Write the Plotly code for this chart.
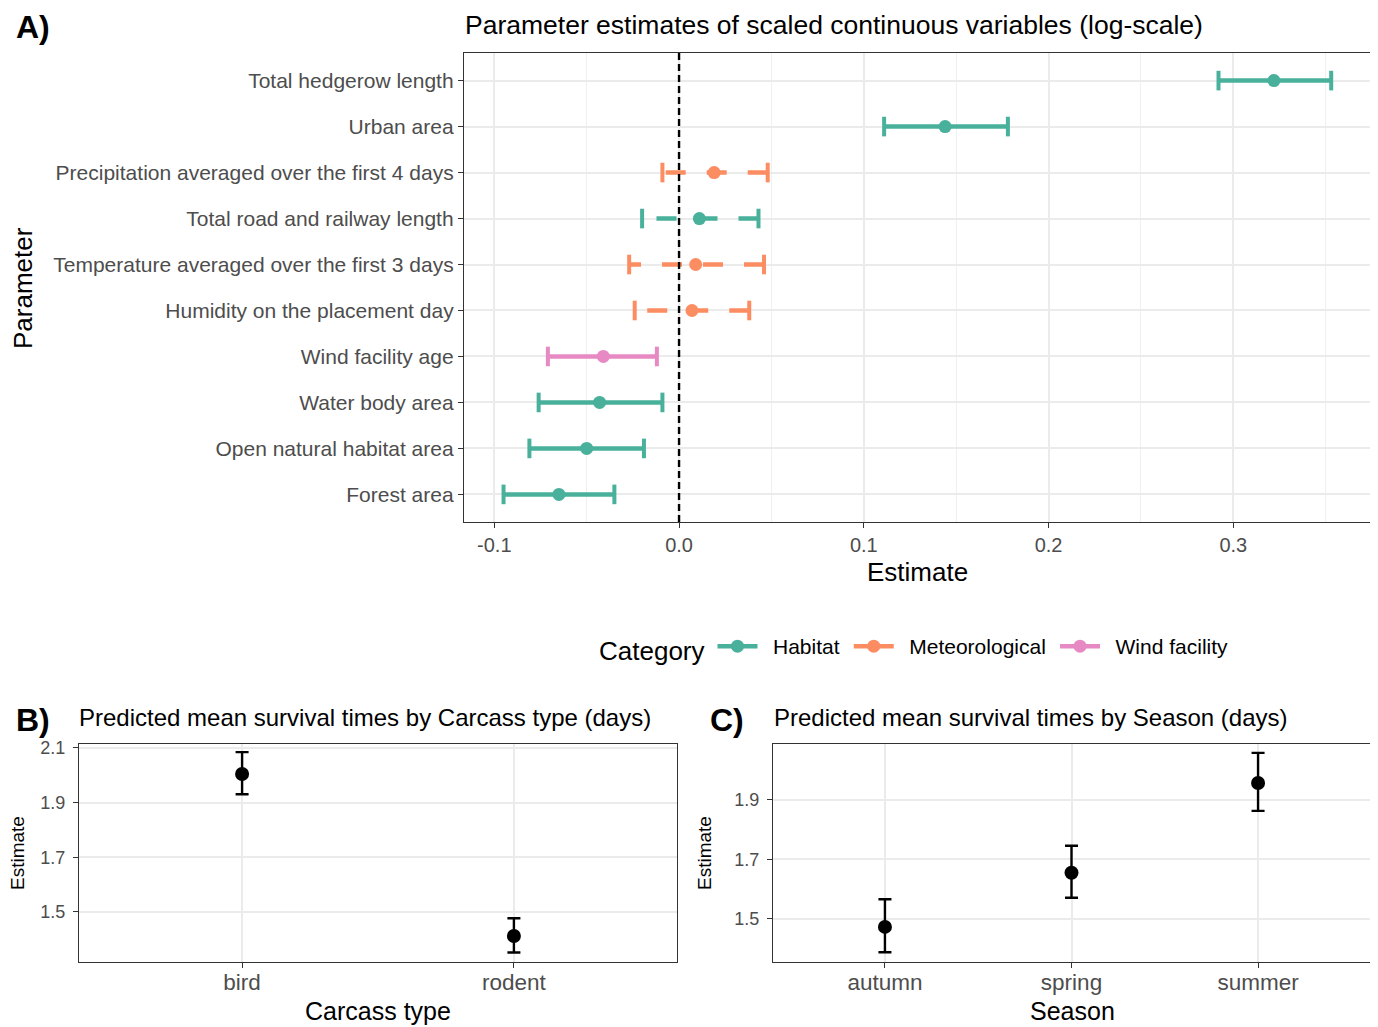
import plotly.graph_objects as go

# ---------------- data ----------------
parameters = ["Total hedgerow length", "Urban area", "Precipitation averaged over the first 4 days",
              "Total road and railway length", "Temperature averaged over the first 3 days",
              "Humidity on the placement day", "Wind facility age", "Water body area",
              "Open natural habitat area", "Forest area"]
categories = ["Habitat", "Habitat", "Meteorological", "Habitat", "Meteorological",
              "Meteorological", "Wind facility", "Habitat", "Habitat", "Habitat"]
estimate = [0.322, 0.144, 0.019, 0.011, 0.009, 0.007, -0.041, -0.043, -0.050, -0.065]
lower = [0.292, 0.111, -0.009, -0.020, -0.027, -0.024, -0.071, -0.076, -0.081, -0.095]
upper = [0.353, 0.178, 0.048, 0.043, 0.046, 0.038, -0.012, -0.009, -0.019, -0.035]

category_names = ["Habitat", "Meteorological", "Wind facility"]
category_colors = {"Habitat": "#48B09B", "Meteorological": "#FC8D62", "Wind facility": "#E78AC3"}

x_tick_vals = [-0.1, 0.0, 0.1, 0.2, 0.3]
x_tick_text = ["-0.1", "0.0", "0.1", "0.2", "0.3"]

carcass = ["bird", "rodent"]
carcass_est = [2.005, 1.412]
carcass_lo = [1.931, 1.352]
carcass_hi = [2.085, 1.477]

season = ["autumn", "spring", "summer"]
season_est = [1.473, 1.655, 1.957]
season_lo = [1.388, 1.571, 1.863]
season_hi = [1.566, 1.746, 2.058]

# ---------------- styling ----------------
PAGE_W, PAGE_H = 1378, 1027
OFF = 8  # browser body margin
W, H = PAGE_W - OFF, PAGE_H - OFF
FONT = "Liberation Sans"
GRID = "#EBEBEB"
BORDER = "#333333"
TICKTXT = "#4D4D4D"

def px_x(p):
    return (p - OFF) / W

def px_y(p):
    return 1 - (p - OFF) / H

fig = go.Figure()

# ---- Panel A ----
for i, name in enumerate(parameters):
    col = category_colors[categories[i]]
    nonsig = lower[i] < 0 < upper[i]
    fig.add_trace(go.Scatter(
        x=[upper[i], lower[i]], y=[name, name], mode="lines",
        line=dict(color=col, width=4.5, dash="20px,21px" if nonsig else "solid"),
        xaxis="x", yaxis="y", showlegend=False, hoverinfo="skip"))
    fig.add_trace(go.Scatter(
        x=[lower[i], upper[i]], y=[name, name], mode="markers",
        marker=dict(symbol="line-ns", size=14, line=dict(color=col, width=4)),
        xaxis="x", yaxis="y", showlegend=False, hoverinfo="skip"))
    fig.add_trace(go.Scatter(
        x=[estimate[i]], y=[name], mode="markers",
        marker=dict(symbol="circle", size=13, color=col),
        xaxis="x", yaxis="y", showlegend=False))

for c in category_names:
    fig.add_trace(go.Scatter(
        x=[None], y=[None], mode="lines+markers", name="\u2002" + c + "\u2009",
        line=dict(color=category_colors[c], width=4.5),
        marker=dict(color=category_colors[c], size=13),
        xaxis="x", yaxis="y", showlegend=True))

# ---- Panel B ----
fig.add_trace(go.Scatter(
    x=carcass, y=carcass_est, mode="markers",
    marker=dict(color="black", size=14),
    error_y=dict(type="data", symmetric=False,
                 array=[h - e for h, e in zip(carcass_hi, carcass_est)],
                 arrayminus=[e - l for l, e in zip(carcass_lo, carcass_est)],
                 color="black", thickness=2.4, width=6.5),
    xaxis="x2", yaxis="y2", showlegend=False))

# ---- Panel C ----
fig.add_trace(go.Scatter(
    x=season, y=season_est, mode="markers",
    marker=dict(color="black", size=14),
    error_y=dict(type="data", symmetric=False,
                 array=[h - e for h, e in zip(season_hi, season_est)],
                 arrayminus=[e - l for l, e in zip(season_lo, season_est)],
                 color="black", thickness=2.4, width=6.5),
    xaxis="x3", yaxis="y3", showlegend=False))

axis_common = dict(showline=True, linecolor=BORDER, linewidth=1.3, mirror=True,
                   ticks="outside", ticklen=5, tickcolor=BORDER, tickwidth=1.3,
                   gridcolor=GRID, gridwidth=2.2, zeroline=False, automargin=False)

def ann(text, x, y, size, angle=0, anchor="center"):
    return dict(text=text, x=px_x(x), y=px_y(y), xref="paper", yref="paper",
                xanchor=anchor, yanchor="middle", textangle=angle, showarrow=False,
                font=dict(size=size, color="black"))

fig.update_layout(
    template="none",
    width=W, height=H, margin=dict(l=0, r=0, t=0, b=0, autoexpand=False),
    paper_bgcolor="white", plot_bgcolor="white",
    font=dict(family=FONT, color="black"),
    xaxis=dict(domain=[px_x(464), px_x(1370)], anchor="y", range=[-0.1164, 0.374],
               tickvals=x_tick_vals, ticktext=x_tick_text,
               tickfont=dict(size=20, color=TICKTXT),
               minor=dict(tickvals=[-0.05, 0.05, 0.15, 0.25, 0.35], showgrid=True,
                          gridcolor="#F0F0F0", gridwidth=1.2, ticks=""),
               **axis_common),
    yaxis=dict(domain=[px_y(522), px_y(53)], anchor="x", type="category",
               categoryorder="array", categoryarray=parameters[::-1],
               range=[-0.6, 9.6], tickfont=dict(size=21, color=TICKTXT),
               **axis_common),
    xaxis2=dict(domain=[px_x(79), px_x(677)], anchor="y2", type="category",
                categoryorder="array", categoryarray=carcass, range=[-0.6, 1.6],
                tickfont=dict(size=22.5, color=TICKTXT), ticklabelstandoff=-5, **axis_common),
    yaxis2=dict(domain=[px_y(962), px_y(744)], anchor="x2", range=[1.317, 2.1146],
                tickvals=[1.5, 1.7, 1.9, 2.1], ticktext=["1.5", "1.7", "1.9", "2.1"],
                tickfont=dict(size=18, color=TICKTXT), ticklabelstandoff=4, **axis_common),
    xaxis3=dict(domain=[px_x(773), px_x(1370)], anchor="y3", type="category",
                categoryorder="array", categoryarray=season, range=[-0.6, 2.6],
                tickfont=dict(size=22.5, color=TICKTXT), ticklabelstandoff=-5, **axis_common),
    yaxis3=dict(domain=[px_y(962), px_y(744)], anchor="x3", range=[1.355, 2.088],
                tickvals=[1.5, 1.7, 1.9], ticktext=["1.5", "1.7", "1.9"],
                tickfont=dict(size=18, color=TICKTXT), ticklabelstandoff=4, **axis_common),
    legend=dict(orientation="h", x=px_x(917), xanchor="center", y=px_y(648), yanchor="middle",
                title=dict(text="Category", font=dict(size=26), side="left"),
                font=dict(size=21), itemwidth=40, tracegroupgap=0,
                bgcolor="rgba(0,0,0,0)"),
    shapes=[dict(type="line", xref="x", yref="y domain", x0=0, x1=0, y0=0, y1=1,
                 line=dict(color="black", width=2.4, dash="7px,4px"))],
    annotations=[
        ann("<b>A)</b>", 14, 27, 32, anchor="left"),
        ann("Parameter estimates of scaled continuous variables (log-scale)", 463, 25, 26.5, anchor="left"),
        ann("Parameter", 23, 288, 26, angle=-90),
        ann("Estimate", 917, 572, 26),
        ann("<b>B)</b>", 14, 720, 32, anchor="left"),
        ann("Predicted mean survival times by Carcass type (days)", 77, 717, 24, anchor="left"),
        ann("Estimate", 17, 853, 19, angle=-90),
        ann("Carcass type", 378, 1011, 25),
        ann("<b>C)</b>", 708, 720, 32, anchor="left"),
        ann("Predicted mean survival times by Season (days)", 772, 717, 24, anchor="left"),
        ann("Estimate", 704, 853, 19, angle=-90),
        ann("Season", 1072, 1011, 25),
    ],
)

fig.write_html("out.html")
